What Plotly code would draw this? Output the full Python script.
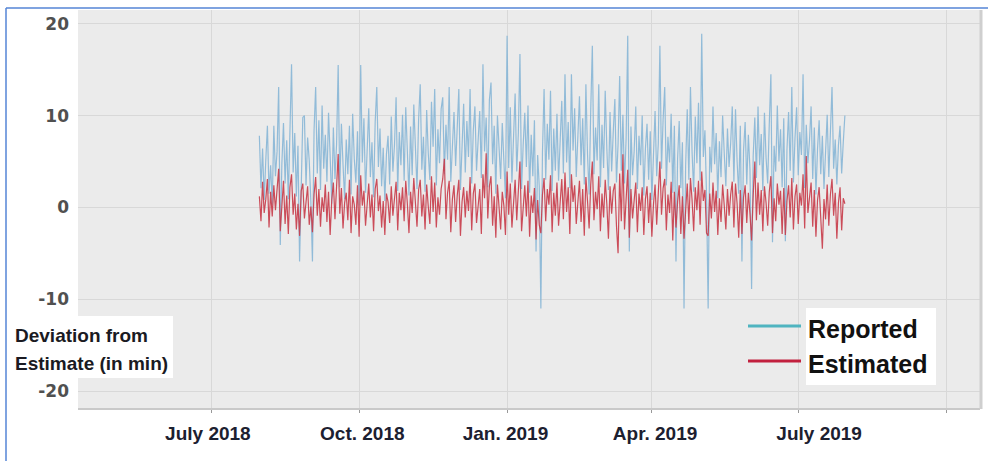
import plotly.graph_objects as go
import pandas as pd

start_date = "2018-07-31"
n_days = 365

reported = [
    7.8, 2.1, 6.4, 0.8, 5.2, 8.9, 1.5, 4.6, 0.3, 8.9,
    3.4, 6.1, 13.1, -4.1, 4.8, 9.2, 2.6, 7.3, 0.9, 10.4,
    15.6, 3.8, 8.1, 1.2, 6.7, -5.9, 4.3, 9.8, 10.0, 2.4,
    7.6, 5.1, 0.6, -5.9, 8.4, 13.1, 3.7, 9.5, 1.9, 11.1,
    4.2, 7.9, 2.8, 10.3, 5.6, 0.4, 8.7, 3.1, 6.9, 15.5,
    2.2, 9.1, 4.7, 0.9, 7.4, 3.6, 8.9, 1.4, 10.2, 5.3,
    2.7, 8.3, 0.2, 15.5, 4.9, 9.7, 1.6, 6.2, 10.8, 3.3,
    7.1, 1.1, 9.3, 13.1, 4.4, 8.6, 2.3, 6.5, 0.7, 5.8,
    7.8, 2.5, 9.9, 3.9, 6.8, 12.0, 1.8, 8.2, 4.6, 10.1,
    2.9, 10.9, 5.4, 1.3, 8.8, 3.5, 11.2, 6.3, 2.0, 9.6,
    13.4, 4.1, 7.7, 1.7, 10.6, 5.9, 3.0, 11.5, 6.6, 12.9,
    2.4, 8.5, 4.8, 10.7, 12.0, 3.6, 9.0, 5.2, 13.1, 2.8,
    7.2, 10.4, 4.5, 8.0, 12.9, 1.9, 6.9, 11.3, 3.8, 9.4,
    5.5, 12.9, 2.6, 8.4, 11.0, 4.0, 7.3, 10.5, 3.2, 15.6,
    6.1, 9.8, 2.2, 11.7, 13.6, 4.7, 8.9, 1.5, 10.0, 6.4,
    3.1, 9.2, 5.0, 1.0, 18.7, 4.3, 10.9, 2.7, 7.6, 12.4,
    3.9, 8.1, 16.7, 2.0, 6.8, 10.3, 4.4, 11.1, 1.6, 7.9,
    3.4, 9.5, -4.8, 5.7, 2.3, -11.0, 6.0, 12.9, 3.0, 9.1,
    5.2, 12.7, 1.8, 8.6, 4.0, 10.2, 2.9, 7.4, 11.6, 3.7,
    14.5, 4.9, 9.3, 2.1, 14.5, 6.2, 10.8, 3.3, 8.0, 12.1,
    4.6, 9.7, 2.5, 13.4, 5.8, 1.4, 10.6, 17.6, 3.6, 8.7,
    5.1, 13.4, 2.2, 9.0, 4.3, 12.7, 6.5, 1.9, 10.4, 3.9,
    8.2, 11.8, 2.7, 6.9, 14.3, 4.0, 10.1, 2.6, 7.5, 18.7,
    -4.8, 8.8, 3.5, 6.1, 11.0, 2.0, 7.8, 4.6, 10.0, 1.3,
    6.4, 9.1, 3.0, 8.3, 0.8, 5.7, 10.5, 3.4, 7.0, 17.6,
    4.2, 9.6, 13.1, 2.4, 7.7, 4.9, 10.2, 1.6, 8.9, -5.9,
    5.3, 9.4, 2.1, 7.1, -11.0, 4.5, 10.7, 3.0, 13.1, 6.0,
    1.7, 9.9, 4.8, 11.4, 2.9, 18.9, 5.5, 8.4, 1.2, -11.0,
    6.6, 3.8, 11.0, 4.7, 8.1, 1.0, 7.2, 3.3, 10.0, 5.9,
    2.3, 8.6, 4.4, 7.0, 11.0, 2.8, 10.7, 5.0, 1.5, 8.9,
    -5.9, 6.2, 9.3, 2.5, 7.9, 4.1, -8.9, 5.6, 9.8, 3.2,
    11.0, 4.6, 8.0, 1.8, 10.3, 5.4, 2.6, 9.1, 14.5, -3.8,
    6.7, 3.9, 11.1, 5.0, 8.5, 2.2, 9.7, -3.7, 6.3, 10.4,
    4.0, 13.1, 2.7, 7.6, 10.9, 3.5, 8.2, 5.7, 14.5, 2.1,
    9.0, 4.8, 7.3, 11.0, 3.1, 8.7, 1.4, 6.4, 9.5, 3.6,
    7.8, 2.0, 5.9, 10.1, 3.3, 8.0, 13.1, 4.2, 7.4, 2.5,
    6.8, 8.9, 3.7, 7.1, 10.0,
]

estimated = [
    1.2, -1.5, 2.8, -0.6, 0.9, 3.1, -2.2, 1.7, -1.0, 2.4,
    -0.3, 1.9, 4.2, -2.6, 0.7, 2.9, -1.8, 1.3, -2.9, 2.2,
    3.6, -0.8, 1.5, -2.4, 0.4, -3.1, 1.8, 2.6, -1.2, 0.6,
    2.3, -1.9, 0.1, -2.7, 1.4, 3.3, -0.9, 2.0, -2.1, 1.1,
    -0.5, 2.5, -1.6, 1.7, -3.0, 0.8, 2.7, -1.3, 1.9, 5.8,
    -0.7, 2.1, -2.3, 0.5, 1.6, -1.4, 3.0, -2.8, 1.2, 0.3,
    -1.9, 2.4, -3.2, 3.5, 0.2, 1.8, -2.0, 0.9, 2.6, -1.1,
    1.4, -2.6, 2.0, 3.1, -0.4, 1.3, -2.2, 0.7, -3.0, 1.5,
    0.6, -1.7, 2.3, -0.9, 1.0, 2.8, -2.5, 1.6, -0.3, 2.2,
    -1.5, 2.9, 0.4, -2.8, 1.7, -0.6, 3.2, 0.8, -2.1, 1.9,
    3.0, -1.0, 1.4, -2.4, 2.5, 0.1, -1.8, 3.4, -0.5, 2.7,
    -2.2, 1.1, -0.8, 2.0, 3.1, 5.3, -1.3, 1.6, 2.9, -2.7,
    0.9, 2.4, -1.6, 1.3, 3.0, -3.1, 0.6, 2.2, -1.1, 1.8,
    -0.4, 3.3, -2.5, 1.5, 2.6, -1.7, 0.7, 2.0, -2.9, 3.6,
    1.0, 5.9, -1.2, 2.3, 3.4, -2.0, 1.2, -3.3, 2.5, 0.4,
    -2.4, 1.7, 0.2, -3.0, 3.9, -0.8, 2.6, -2.2, 0.9, 3.0,
    -1.4, 1.8, 5.0, -2.6, 0.5, 2.4, -1.0, 2.9, -3.2, 1.3,
    -0.6, 2.1, -3.5, 0.8, -1.9, -2.8, 1.4, 3.2, -1.5, 2.0,
    0.3, 3.5, -2.7, 1.6, -0.9, 2.7, -2.0, 0.9, 3.1, -1.3,
    3.8, -0.5, 2.2, -2.9, 3.6, 0.6, 2.4, -1.8, 1.2, 2.9,
    -1.6, 2.0, -3.1, 3.3, 0.7, -2.3, 2.5, 5.0, -1.4, 1.7,
    -0.2, 3.4, -2.6, 1.5, -1.1, 3.0, 0.4, -3.4, 2.3, -0.7,
    1.8, 2.6, -2.0, -5.0, 3.7, -1.5, 5.8, -2.4, 0.9, 4.1,
    -3.3, 2.0, -1.2, 0.8, 2.7, -2.7, 1.5, -0.4, 2.2, -3.0,
    0.9, 2.3, -1.7, 1.6, -3.2, 0.3, 2.5, -1.9, 1.1, 5.0,
    -0.8, 2.1, 3.1, -2.5, 1.4, -0.6, 2.8, -3.6, 1.7, -2.2,
    0.6, 2.4, -2.9, 1.2, -3.4, 0.5, 2.6, -1.8, 3.2, 0.8,
    -2.6, 2.2, -0.3, 2.9, -1.9, 3.9, 0.7, 1.9, -2.8, -3.1,
    1.5, -1.2, 2.7, -0.5, 1.8, -3.0, 1.0, -1.6, 2.5, 0.2,
    -2.4, 2.0, -0.9, 1.4, 2.8, -2.2, 2.6, 0.4, -3.3, 1.9,
    -2.9, 1.1, 2.4, -1.7, 1.6, -0.7, -3.6, 1.3, 5.0, -1.4,
    2.7, -0.8, 1.9, -2.6, 2.3, 0.5, -2.0, 1.7, 3.4, -2.8,
    1.0, -1.5, 2.6, 0.3, 1.8, -2.9, 2.1, -3.0, 0.7, 2.4,
    -1.1, 3.2, -2.4, 1.2, 2.5, -1.8, 1.6, 0.2, 3.6, -2.3,
    5.6, -0.6, 1.5, 2.7, -2.1, 1.9, -3.2, 0.8, 2.2, -1.7,
    -4.5, 0.9, -1.3, 2.5, -2.0, 1.4, 3.1, -0.9, 1.6, -3.4,
    0.5, 2.2, -2.5, 1.0, 0.4,
]

series_names = ["Reported", "Estimated"]
y_ticks = [-20, -10, 0, 10, 20]
y_tick_labels = ["-20", "-10", "0", "10", "20"]
x_label_dates = ["2018-06-29", "2018-10-03", "2018-12-31", "2019-04-03", "2019-07-14"]
x_labels = ["July 2018", "Oct. 2018", "Jan. 2019", "Apr. 2019", "July 2019"]
x_grid_dates = ["2018-07-01", "2018-10-01", "2019-01-01", "2019-04-01", "2019-07-01", "2019-10-01"]

dates = pd.date_range(start_date, periods=n_days, freq="D")

fig = go.Figure()
fig.add_trace(go.Scatter(
    x=dates, y=reported, mode="lines", name=series_names[0], showlegend=False,
    line=dict(color="rgba(135,182,214,0.9)", width=1.2),
))
fig.add_trace(go.Scatter(
    x=dates, y=estimated, mode="lines", name=series_names[1], showlegend=False,
    line=dict(color="rgba(200,62,76,0.92)", width=1.2),
))

# pixel -> paper helpers (plot area: x 78..980, y 10..408)
def px(v):
    return (v - 78) / 902.0

def py(v):
    return (408 - v) / 398.0

bold_sans = "Liberation Sans, Arial, sans-serif"

shapes = [
    dict(type="line", xref="paper", yref="paper", x0=px(6), x1=px(988), y0=py(8), y1=py(8),
         line=dict(color="#5585d6", width=1.5), layer="above"),
    dict(type="line", xref="paper", yref="paper", x0=px(6), x1=px(6), y0=py(8), y1=py(461),
         line=dict(color="#5585d6", width=1.5), layer="above"),
    dict(type="line", xref="paper", yref="paper", x0=px(981), x1=px(981), y0=py(10), y1=py(409),
         line=dict(color="#cfcfcf", width=3), layer="above"),
    dict(type="rect", xref="paper", yref="paper", x0=px(12), x1=px(173), y0=py(378), y1=py(316),
         fillcolor="white", line=dict(width=0), layer="above"),
    dict(type="rect", xref="paper", yref="paper", x0=px(806), x1=px(936), y0=py(385), y1=py(308),
         fillcolor="white", line=dict(width=0), layer="above"),
    dict(type="line", xref="paper", yref="paper", x0=px(748), x1=px(801), y0=py(326), y1=py(326),
         line=dict(color="#4fb4c0", width=3), layer="above"),
    dict(type="line", xref="paper", yref="paper", x0=px(748), x1=px(801), y0=py(361), y1=py(361),
         line=dict(color="#c2203e", width=3), layer="above"),
]

annotations = [
    dict(text="Deviation from", xref="paper", yref="paper", x=px(13), y=py(335),
         xanchor="left", yanchor="middle", showarrow=False,
         font=dict(family=bold_sans, size=19, color="#1a1a22", weight="bold")),
    dict(text="Estimate (in min)", xref="paper", yref="paper", x=px(13), y=py(363),
         xanchor="left", yanchor="middle", showarrow=False,
         font=dict(family=bold_sans, size=19, color="#1a1a22", weight="bold")),
    dict(text=series_names[0], xref="paper", yref="paper", x=px(806), y=py(329),
         xanchor="left", yanchor="middle", showarrow=False,
         font=dict(family=bold_sans, size=25, color="#111111", weight="bold")),
    dict(text=series_names[1], xref="paper", yref="paper", x=px(806), y=py(364),
         xanchor="left", yanchor="middle", showarrow=False,
         font=dict(family=bold_sans, size=25, color="#111111", weight="bold")),
]

fig.update_layout(
    width=988, height=461,
    margin=dict(l=78, r=8, t=10, b=53),
    paper_bgcolor="white",
    plot_bgcolor="#ebebeb",
    showlegend=False,
    shapes=shapes,
    annotations=annotations,
    xaxis=dict(
        range=["2018-04-09 06:00", "2019-10-22"],
        tickmode="array", tickvals=x_label_dates, ticktext=x_labels,
        showgrid=False, ticks="", ticklabelstandoff=7,
        tickfont=dict(family=bold_sans, size=19, color="#1c2030", weight="bold"),
        showline=True, linecolor="#c9c9c9", linewidth=2,
        zeroline=False,
        minor=dict(tickmode="array", tickvals=x_grid_dates, showgrid=True,
                   gridcolor="#d8d8d8", gridwidth=1, ticks="outside", ticklen=3,
                   tickcolor="#999999"),
    ),
    yaxis=dict(
        range=[-21.85, 21.5],
        tickmode="array", tickvals=y_ticks, ticktext=y_tick_labels,
        showgrid=True, gridcolor="#d8d8d8", gridwidth=1,
        zeroline=False, ticks="", ticklabelstandoff=8,
        tickfont=dict(family="DejaVu Sans", size=17, color="#505050", weight="bold"),
        showline=False,
    ),
)

fig.write_html("out.html")
